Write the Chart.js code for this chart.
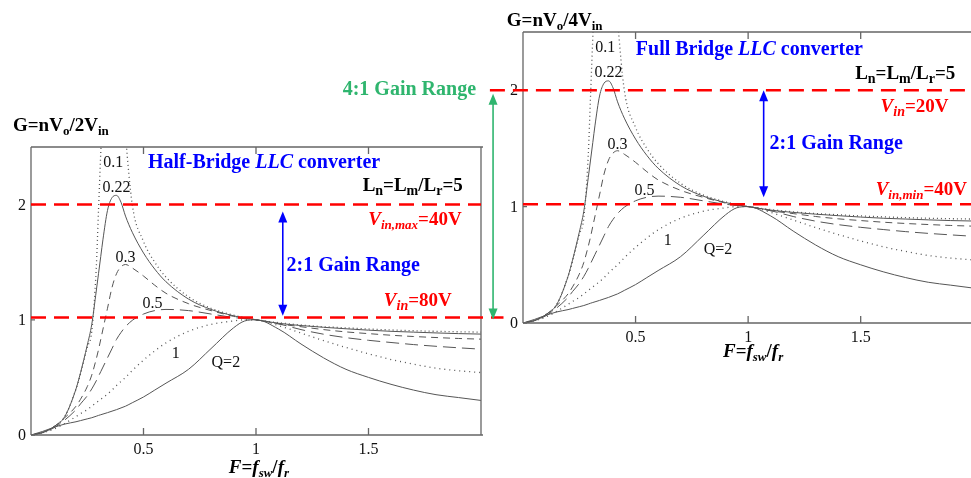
<!DOCTYPE html>
<html>
<head>
<meta charset="utf-8">
<script src="https://cdn.jsdelivr.net/npm/chart.js@4/dist/chart.umd.min.js"></script>
<style>
    html, body { margin: 0; padding: 0; background: #fff; }
    #wrap { position: relative; width: 971px; height: 478px; overflow: hidden; }
    canvas { position: absolute; left: 0; top: 0; }
</style>
</head>
<body>
<div id="wrap">
    <canvas id="half" width="971" height="478"></canvas>
    <canvas id="full" width="971" height="478"></canvas>
</div>
<script>
// normalized frequency F = fsw/fr
const freq = [0, 0.05, 0.1, 0.15, 0.2, 0.22, 0.25, 0.27, 0.29, 0.3, 0.31, 0.32, 0.34, 0.36, 0.38, 0.4, 0.42, 0.45,
    0.5, 0.55, 0.6, 0.7, 0.8, 0.9, 0.95, 1.0, 1.1, 1.2, 1.3, 1.4, 1.5, 1.6, 1.7, 1.8, 1.9, 2.0];

// gain curves, one per Q
const gainQ01 = [0, 0.02, 0.07, 0.16, 0.40, 0.53, 0.76, 0.9, 1.45, 1.95, 2.45, 2.9, 3.6, 3.9, 3.7, 3.1, 2.6, 2.0,
    1.68, 1.5, 1.37, 1.2, 1.1, 1.04, 1.02, 1.0, 0.975, 0.955, 0.94, 0.93, 0.92, 0.912, 0.905, 0.9, 0.896, 0.893];
const gainQ022 = [0, 0.02, 0.07, 0.16, 0.40, 0.54, 0.78, 0.96, 1.25, 1.40, 1.55, 1.70, 1.95, 2.06, 2.08, 2.02, 1.9, 1.76,
    1.58, 1.44, 1.33, 1.18, 1.09, 1.035, 1.015, 1.0, 0.97, 0.95, 0.935, 0.922, 0.91, 0.9, 0.893, 0.886, 0.88, 0.876];
const gainQ03 = [0, 0.02, 0.07, 0.15, 0.25, 0.31, 0.42, 0.52, 0.66, 0.74, 0.83, 0.92, 1.1, 1.28, 1.40, 1.46, 1.48, 1.45,
    1.38, 1.30, 1.23, 1.14, 1.08, 1.03, 1.01, 1.0, 0.965, 0.94, 0.915, 0.895, 0.88, 0.866, 0.855, 0.846, 0.838, 0.832];
const gainQ05 = [0, 0.02, 0.06, 0.13, 0.22, 0.27, 0.34, 0.40, 0.47, 0.51, 0.55, 0.59, 0.67, 0.75, 0.83, 0.89, 0.94, 0.995,
    1.05, 1.08, 1.09, 1.08, 1.05, 1.02, 1.01, 1.0, 0.965, 0.915, 0.875, 0.845, 0.822, 0.803, 0.785, 0.77, 0.757, 0.745];
const gainQ1 = [0, 0.02, 0.05, 0.1, 0.16, 0.185, 0.22, 0.25, 0.28, 0.295, 0.31, 0.325, 0.355, 0.39, 0.43, 0.465, 0.5, 0.56,
    0.65, 0.73, 0.8, 0.9, 0.96, 0.99, 1.0, 1.0, 0.95, 0.885, 0.82, 0.76, 0.705, 0.655, 0.615, 0.58, 0.558, 0.542];
const gainQ2 = [0, 0.03, 0.065, 0.095, 0.115, 0.125, 0.14, 0.15, 0.163, 0.17, 0.176, 0.182, 0.194, 0.207, 0.22, 0.235, 0.25, 0.28,
    0.33, 0.39, 0.45, 0.57, 0.75, 0.93, 0.99, 1.0, 0.92, 0.79, 0.67, 0.57, 0.5, 0.44, 0.39, 0.35, 0.325, 0.30];

const gains = [gainQ01, gainQ022, gainQ03, gainQ05, gainQ1, gainQ2];
const qLabels = ['0.1', '0.22', '0.3', '0.5', '1', 'Q=2'];
const xTicks = [0.5, 1, 1.5];
const yTicks = [0, 1, 2];

const SERIF = '"Liberation Serif", "Times New Roman", serif';
const curveDash = [[1, 3], [], [7, 5], [13, 6], [1, 4], []];
const qLabelPos = [[0.365, 2.36], [0.38, 2.148], [0.42, 1.535], [0.54, 1.14], [0.643, 0.708], [0.866, 0.63]];

function rich(ctx, x, y, parts, align, color) {
    let w = 0;
    parts.forEach((p) => {
        ctx.font = `${p[2] || ''} ${p[1]}px ${SERIF}`;
        w += ctx.measureText(p[0]).width;
    });
    let cx = align === 'right' ? x - w : align === 'center' ? x - w / 2 : x;
    ctx.fillStyle = color;
    ctx.textAlign = 'left';
    ctx.textBaseline = 'alphabetic';
    parts.forEach((p) => {
        ctx.font = `${p[2] || ''} ${p[1]}px ${SERIF}`;
        ctx.fillText(p[0], cx, y + (p[3] || 0));
        cx += ctx.measureText(p[0]).width;
    });
}

function arrow(ctx, x, y1, y2, color) {
    ctx.strokeStyle = color;
    ctx.fillStyle = color;
    ctx.lineWidth = 1.6;
    ctx.setLineDash([]);
    ctx.beginPath();
    ctx.moveTo(x, y1 + 8);
    ctx.lineTo(x, y2 - 8);
    ctx.stroke();
    [[y1, 1], [y2, -1]].forEach(([yy, d]) => {
        ctx.beginPath();
        ctx.moveTo(x, yy);
        ctx.lineTo(x - 4.5, yy + d * 11);
        ctx.lineTo(x + 4.5, yy + d * 11);
        ctx.closePath();
        ctx.fill();
    });
}

const axisTitle = [['F', 19, 'bold italic'], ['=', 19, 'bold'], ['f', 19, 'bold italic'], ['sw', 13, 'bold italic', 4],
    ['/', 19, 'bold'], ['f', 19, 'bold italic'], ['r', 13, 'bold italic', 4]];
const lnText = [['L', 19, 'bold'], ['n', 14, 'bold', 4], ['=L', 19, 'bold'], ['m', 14, 'bold', 4], ['/L', 19, 'bold'],
    ['r', 14, 'bold', 4], ['=5', 19, 'bold']];

function drawDecor(chart, cfg) {
    const { ctx, chartArea: a, scales: { x, y } } = chart;
    const X = (v) => x.getPixelForValue(v);
    const Y = (v) => y.getPixelForValue(v);
    ctx.save();

    // frame
    ctx.strokeStyle = '#666';
    ctx.lineWidth = 1.3;
    ctx.setLineDash([]);
    ctx.beginPath();
    if (cfg.rightBorder) {
        ctx.moveTo(a.right, a.top);
        ctx.lineTo(a.right, a.bottom);
    }
    ctx.moveTo(a.left, a.top);
    ctx.lineTo(a.left, a.bottom);
    ctx.moveTo(a.left, a.top);
    ctx.lineTo(a.right + 2, a.top);
    ctx.moveTo(a.left, a.bottom);
    ctx.lineTo(a.right + 2, a.bottom);
    ctx.stroke();

    // inward ticks
    ctx.beginPath();
    xTicks.forEach((v) => {
        ctx.moveTo(X(v), a.bottom);
        ctx.lineTo(X(v), a.bottom - 7);
        ctx.moveTo(X(v), a.top);
        ctx.lineTo(X(v), a.top + 7);
    });
    yTicks.forEach((v) => {
        ctx.moveTo(a.left, Y(v));
        ctx.lineTo(a.left + 4, Y(v));
    });
    ctx.stroke();

    ctx.fillStyle = '#111';
    ctx.font = `16px ${SERIF}`;
    ctx.textAlign = 'center';
    ctx.textBaseline = 'middle';
    xTicks.forEach((v) => ctx.fillText(String(v), X(v), a.bottom + 15));
    ctx.textAlign = 'right';
    yTicks.forEach((v) => ctx.fillText(String(v), a.left - 5, Y(v) + 1));

    // curve labels
    ctx.textAlign = 'center';
    ctx.font = `16px ${SERIF}`;
    qLabels.forEach((t, i) => ctx.fillText(t, X(qLabelPos[i][0]), Y(qLabelPos[i][1])));

    // red input voltage lines
    ctx.strokeStyle = '#ff0000';
    ctx.lineWidth = 2.5;
    ctx.setLineDash([15, 8]);
    cfg.redLines.forEach((r) => {
        ctx.beginPath();
        ctx.moveTo(X(r[1]), Y(r[0]));
        ctx.lineTo(X(r[2]), Y(r[0]));
        ctx.stroke();
    });

    cfg.arrows.forEach((r) => arrow(ctx, X(r[0]), Y(r[1]), Y(r[2]), r[3]));
    cfg.texts.forEach((t) => rich(ctx, X(t[0]), Y(t[1]), t[4], t[2], t[3]));
    ctx.restore();
}

function makeChart(id, cfg) {
    return new Chart(document.getElementById(id), {
        type: 'line',
        data: {
            datasets: gains.map((g, i) => ({
                label: qLabels[i],
                data: freq.map((f, j) => ({ x: f, y: g[j] })),
                borderColor: '#555',
                borderWidth: i === 0 || i === 4 ? 1.3 : 1,
                borderDash: curveDash[i],
                pointRadius: 0,
                cubicInterpolationMode: 'monotone',
                fill: false,
            })),
        },
        options: {
            responsive: false,
            animation: false,
            events: [],
            layout: { padding: cfg.pad },
            plugins: { legend: { display: false }, tooltip: { enabled: false } },
            scales: {
                x: { type: 'linear', min: 0, max: cfg.xMax, display: false },
                y: { type: 'linear', min: 0, max: 2.5, display: false },
            },
        },
        plugins: [{ id: 'decor', afterDraw(chart) { drawDecor(chart, cfg); } }],
    });
}

makeChart('half', {
    pad: { left: 31, top: 147, right: 490, bottom: 43 },
    xMax: 2.0,
    rightBorder: true,
    redLines: [[2, 0, 2.0], [1.02, 0, 2.1]],
    arrows: [[1.119, 1.94, 1.035, '#0000ff']],
    texts: [
        [-0.08, 2.637, 'left', '#000', [['G=nV', 19, 'bold'], ['o', 13, 'bold', 4], ['/2V', 19, 'bold'], ['in', 13, 'bold', 4]]],
        [0.52, 2.322, 'left', '#0000ff', [['Half-Bridge ', 20, 'bold'], ['LLC', 20, 'bold italic'], [' converter', 20, 'bold']]],
        [1.919, 2.116, 'right', '#000', lnText],
        [1.914, 1.826, 'right', '#ff0000', [['V', 19, 'bold italic'], ['in,max', 13, 'bold italic', 4], ['=40V', 19, 'bold']]],
        [1.136, 1.426, 'left', '#0000ff', [['2:1 Gain Range', 20, 'bold']]],
        [1.87, 1.116, 'right', '#ff0000', [['V', 19, 'bold italic'], ['in', 14, 'bold italic', 4], ['=80V', 19, 'bold']]],
        [1.013, -0.33, 'center', '#000', axisTitle],
        [1.978, 2.948, 'right', '#2fb56e', [['4:1 Gain Range', 20, 'bold']]],
    ],
});

makeChart('full', {
    pad: { left: 523, top: 32, right: 0, bottom: 155 },
    xMax: 1.99,
    rightBorder: false,
    redLines: [[2, -0.147, 1.99], [1.02, 0, 1.99]],
    arrows: [[1.069, 2.0, 1.08, '#0000ff'], [-0.133, 1.97, 0.03, '#2fb56e']],
    texts: [
        [-0.072, 2.549, 'left', '#000', [['G=nV', 19, 'bold'], ['o', 13, 'bold', 4], ['/4V', 19, 'bold'], ['in', 13, 'bold', 4]]],
        [0.501, 2.30, 'left', '#0000ff', [['Full Bridge ', 20, 'bold'], ['LLC', 20, 'bold italic'], [' converter', 20, 'bold']]],
        [1.92, 2.092, 'right', '#000', lnText],
        [1.89, 1.814, 'right', '#ff0000', [['V', 19, 'bold italic'], ['in', 14, 'bold italic', 4], ['=20V', 19, 'bold']]],
        [1.095, 1.491, 'left', '#0000ff', [['2:1 Gain Range', 20, 'bold']]],
        [1.972, 1.099, 'right', '#ff0000', [['V', 19, 'bold italic'], ['in,min', 13, 'bold italic', 4], ['=40V', 19, 'bold']]],
        [1.022, -0.292, 'center', '#000', axisTitle],
    ],
});
</script>
</body>
</html>
